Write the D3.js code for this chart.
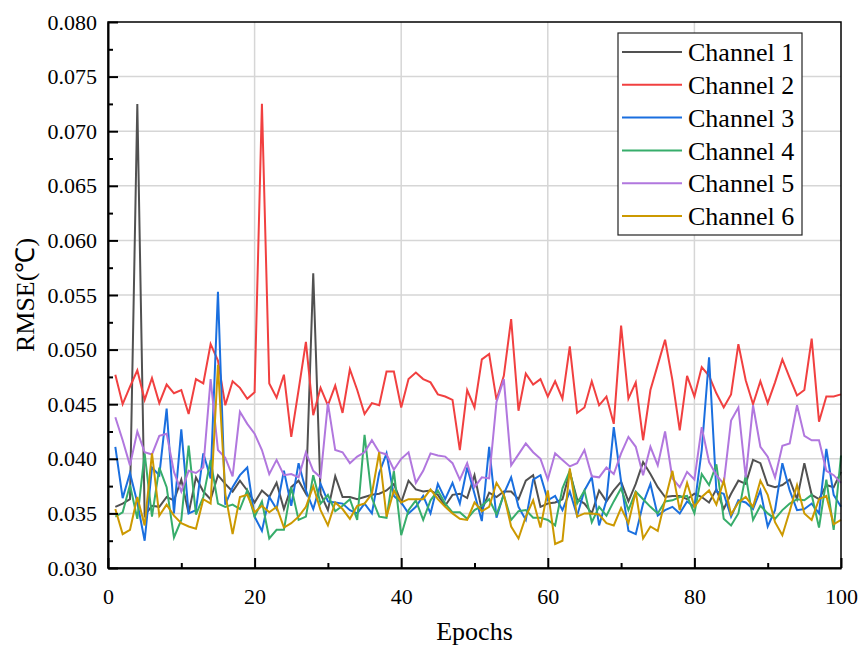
<!DOCTYPE html>
<html>
<head>
<meta charset="utf-8">
<script src="https://cdn.jsdelivr.net/npm/d3@7"></script>
<style>
  body { margin: 0; background: #fff; }
  svg { display: block; font-family: "Liberation Serif", "Times New Roman", serif; }
</style>
</head>
<body>
<div id="chart"></div>
<script>
// Data (epochs 1..100)
const epochs = d3.range(1, 101);
const seriesNames = ["Channel 1", "Channel 2", "Channel 3", "Channel 4", "Channel 5", "Channel 6"];
const seriesColors = ["#515151", "#F14040", "#1A6FDF", "#37AD6B", "#B177DE", "#CC9900"];

const ch1 = [
  0.0356, 0.0359, 0.0363, 0.0725, 0.0348, 0.0357, 0.0356, 0.0365, 0.0362, 0.0381, 0.0350, 0.0383, 0.0370, 0.0363, 0.0385, 0.0377, 0.0370,
  0.0380, 0.0371, 0.0360, 0.0371, 0.0365, 0.0378, 0.0354, 0.0374, 0.0380, 0.0368, 0.0570, 0.0368, 0.0353, 0.0384, 0.0365, 0.0365,
  0.0363, 0.0365, 0.0367, 0.0368, 0.0371, 0.0377, 0.0360, 0.0380, 0.0372, 0.0370, 0.0371, 0.0367, 0.0357, 0.0367, 0.0368, 0.0364, 0.0385,
  0.0353, 0.0369, 0.0365, 0.0370, 0.0370, 0.0363, 0.0380, 0.0385, 0.0356, 0.0359, 0.0360, 0.0363, 0.0388, 0.0363, 0.0359, 0.0350,
  0.0371, 0.0361, 0.0371, 0.0379, 0.0361, 0.0377, 0.0397, 0.0386, 0.0374, 0.0365, 0.0366, 0.0366, 0.0363, 0.0368, 0.0365, 0.0360, 0.0372,
  0.0354, 0.0368, 0.0380, 0.0377, 0.0399, 0.0396, 0.0376, 0.0374, 0.0376, 0.0381, 0.0363, 0.0396, 0.0367, 0.0363, 0.0376, 0.0374, 0.0388
];
const ch2 = [
  0.0477, 0.0450, 0.0466, 0.0481, 0.0454, 0.0474, 0.0451, 0.0468, 0.0460, 0.0463, 0.0441, 0.0473, 0.0469, 0.0505, 0.0490, 0.0449, 0.0471,
  0.0465, 0.0455, 0.0461, 0.0725, 0.0469, 0.0456, 0.0477, 0.0420, 0.0463, 0.0507, 0.0440, 0.0465, 0.0449, 0.0467, 0.0442, 0.0482,
  0.0463, 0.0441, 0.0451, 0.0449, 0.0480, 0.0480, 0.0447, 0.0473, 0.0479, 0.0473, 0.0470, 0.0459, 0.0457, 0.0454, 0.0408, 0.0463, 0.0447,
  0.0491, 0.0496, 0.0454, 0.0476, 0.0528, 0.0444, 0.0478, 0.0468, 0.0473, 0.0457, 0.0471, 0.0455, 0.0503, 0.0442, 0.0447, 0.0471,
  0.0449, 0.0457, 0.0432, 0.0522, 0.0455, 0.0470, 0.0417, 0.0463, 0.0486, 0.0509, 0.0472, 0.0426, 0.0476, 0.0457, 0.0484, 0.0476, 0.0460,
  0.0447, 0.0459, 0.0505, 0.0472, 0.0450, 0.0471, 0.0451, 0.0470, 0.0491, 0.0474, 0.0458, 0.0463, 0.0510, 0.0434, 0.0457, 0.0457, 0.0459
];
const ch3 = [
  0.0411, 0.0364, 0.0387, 0.0360, 0.0325, 0.0392, 0.0385, 0.0446, 0.0350, 0.0427, 0.0350, 0.0353, 0.0405, 0.0382, 0.0553, 0.0358, 0.0374,
  0.0385, 0.0392, 0.0347, 0.0334, 0.0365, 0.0354, 0.0389, 0.0357, 0.0396, 0.0371, 0.0354, 0.0377, 0.0361, 0.0360, 0.0359, 0.0353,
  0.0350, 0.0359, 0.0350, 0.0387, 0.0405, 0.0366, 0.0360, 0.0350, 0.0356, 0.0366, 0.0350, 0.0377, 0.0363, 0.0378, 0.0359, 0.0392, 0.0368,
  0.0343, 0.0411, 0.0346, 0.0368, 0.0383, 0.0356, 0.0344, 0.0381, 0.0385, 0.0362, 0.0366, 0.0353, 0.0370, 0.0348, 0.0371, 0.0383,
  0.0339, 0.0362, 0.0429, 0.0379, 0.0334, 0.0331, 0.0359, 0.0377, 0.0348, 0.0353, 0.0356, 0.0350, 0.0361, 0.0356, 0.0408, 0.0493, 0.0370,
  0.0368, 0.0347, 0.0362, 0.0360, 0.0354, 0.0371, 0.0338, 0.0353, 0.0396, 0.0371, 0.0353, 0.0354, 0.0359, 0.0350, 0.0409, 0.0367, 0.0356
];
const ch4 = [
  0.0347, 0.0351, 0.0376, 0.0345, 0.0405, 0.0347, 0.0392, 0.0374, 0.0328, 0.0344, 0.0412, 0.0349, 0.0365, 0.0399, 0.0359, 0.0356, 0.0358,
  0.0354, 0.0371, 0.0347, 0.0361, 0.0327, 0.0335, 0.0335, 0.0374, 0.0344, 0.0347, 0.0385, 0.0359, 0.0367, 0.0352, 0.0357, 0.0363,
  0.0344, 0.0422, 0.0364, 0.0347, 0.0346, 0.0389, 0.0330, 0.0353, 0.0362, 0.0344, 0.0362, 0.0371, 0.0359, 0.0351, 0.0351, 0.0345, 0.0353,
  0.0357, 0.0363, 0.0349, 0.0367, 0.0344, 0.0352, 0.0353, 0.0346, 0.0346, 0.0344, 0.0339, 0.0373, 0.0389, 0.0359, 0.0371, 0.0342,
  0.0356, 0.0348, 0.0361, 0.0373, 0.0353, 0.0370, 0.0363, 0.0356, 0.0350, 0.0361, 0.0362, 0.0365, 0.0366, 0.0350, 0.0386, 0.0376, 0.0395,
  0.0345, 0.0339, 0.0350, 0.0385, 0.0344, 0.0357, 0.0350, 0.0345, 0.0353, 0.0359, 0.0363, 0.0362, 0.0367, 0.0337, 0.0381, 0.0335, 0.0403
];
const ch5 = [
  0.0438, 0.0417, 0.0394, 0.0425, 0.0406, 0.0404, 0.0421, 0.0423, 0.0388, 0.0370, 0.0389, 0.0387, 0.0392, 0.0473, 0.0408, 0.0401, 0.0384,
  0.0443, 0.0432, 0.0423, 0.0408, 0.0386, 0.0399, 0.0385, 0.0386, 0.0383, 0.0406, 0.0389, 0.0383, 0.0451, 0.0408, 0.0406, 0.0396,
  0.0402, 0.0406, 0.0417, 0.0406, 0.0404, 0.0390, 0.0400, 0.0406, 0.0378, 0.0389, 0.0405, 0.0403, 0.0402, 0.0396, 0.0381, 0.0396, 0.0374,
  0.0383, 0.0382, 0.0452, 0.0473, 0.0394, 0.0404, 0.0414, 0.0406, 0.0400, 0.0381, 0.0405, 0.0399, 0.0393, 0.0396, 0.0408, 0.0384,
  0.0383, 0.0392, 0.0386, 0.0405, 0.0420, 0.0411, 0.0385, 0.0411, 0.0394, 0.0425, 0.0382, 0.0374, 0.0388, 0.0381, 0.0429, 0.0397, 0.0385,
  0.0377, 0.0435, 0.0447, 0.0383, 0.0449, 0.0411, 0.0402, 0.0383, 0.0412, 0.0414, 0.0449, 0.0421, 0.0417, 0.0417, 0.0389, 0.0385, 0.0378
];
const ch6 = [
  0.0354, 0.0331, 0.0335, 0.0365, 0.0339, 0.0405, 0.0348, 0.0358, 0.0348, 0.0341, 0.0338, 0.0336, 0.0363, 0.0359, 0.0486, 0.0368, 0.0331,
  0.0365, 0.0367, 0.0351, 0.0357, 0.0351, 0.0356, 0.0337, 0.0341, 0.0347, 0.0356, 0.0375, 0.0353, 0.0339, 0.0360, 0.0354, 0.0345,
  0.0357, 0.0359, 0.0368, 0.0406, 0.0347, 0.0371, 0.0360, 0.0363, 0.0363, 0.0363, 0.0372, 0.0363, 0.0356, 0.0350, 0.0345, 0.0344, 0.0360,
  0.0352, 0.0356, 0.0378, 0.0367, 0.0338, 0.0327, 0.0347, 0.0362, 0.0337, 0.0371, 0.0322, 0.0325, 0.0391, 0.0347, 0.0350, 0.0350,
  0.0349, 0.0341, 0.0339, 0.0355, 0.0341, 0.0370, 0.0327, 0.0338, 0.0334, 0.0362, 0.0389, 0.0353, 0.0378, 0.0356, 0.0365, 0.0371, 0.0358,
  0.0380, 0.0349, 0.0360, 0.0365, 0.0356, 0.0380, 0.0367, 0.0342, 0.0330, 0.0352, 0.0376, 0.0350, 0.0344, 0.0363, 0.0366, 0.0340, 0.0344
];
const allSeries = [ch1, ch2, ch3, ch4, ch5, ch6];

const xMajorTicks = [0, 20, 40, 60, 80, 100];
const xMinorTicks = [10, 30, 50, 70, 90];
const yMajorTicks = [0.030, 0.035, 0.040, 0.045, 0.050, 0.055, 0.060, 0.065, 0.070, 0.075, 0.080];

const W = 860, H = 646;
const margin = {top: 22, right: 19, bottom: 78, left: 108};
const width = W - margin.left - margin.right;
const height = H - margin.top - margin.bottom;

const svg = d3.select("#chart").append("svg")
  .attr("width", W)
  .attr("height", H);

const g = svg.append("g")
  .attr("transform", `translate(${margin.left},${margin.top})`);

const x = d3.scaleLinear().domain([0, 100]).range([0, width]);
const y = d3.scaleLinear().domain([0.030, 0.080]).range([height, 0]);

// grid lines
g.append("g")
  .selectAll("line")
  .data(xMajorTicks.slice(1, -1))
  .join("line")
  .attr("x1", d => x(d)).attr("x2", d => x(d))
  .attr("y1", 0).attr("y2", height)
  .attr("stroke", "#d6d6d6").attr("stroke-width", 1.5);

g.append("g")
  .selectAll("line")
  .data(yMajorTicks.slice(1, -1))
  .join("line")
  .attr("x1", 0).attr("x2", width)
  .attr("y1", d => y(d)).attr("y2", d => y(d))
  .attr("stroke", "#d6d6d6").attr("stroke-width", 1.5);

// lines
const line = d3.line()
  .x((d, i) => x(epochs[i]))
  .y(d => y(d));

g.append("g")
  .selectAll("path")
  .data(allSeries)
  .join("path")
  .attr("d", line)
  .attr("fill", "none")
  .attr("stroke", (d, i) => seriesColors[i])
  .attr("stroke-width", 2)
  .attr("stroke-linejoin", "miter");

// frame
g.append("rect")
  .attr("x", 0).attr("y", 0)
  .attr("width", width).attr("height", height)
  .attr("fill", "none")
  .attr("stroke", "#000")
  .attr("stroke-width", 1.5);

// x axis (ticks inward)
const xAxis = g.append("g")
  .attr("transform", `translate(0,${height})`)
  .call(d3.axisBottom(x).tickValues(xMajorTicks).tickSizeInner(-10).tickSizeOuter(0).tickPadding(20).tickFormat(d3.format("d")));
xAxis.select(".domain").attr("stroke-width", 2);
xAxis.selectAll(".tick line").attr("stroke-width", 2);
xAxis.selectAll("text").attr("font-size", 22).attr("font-family", "Liberation Serif").attr("fill", "#000");

g.append("g")
  .attr("transform", `translate(0,${height})`)
  .call(d3.axisBottom(x).tickValues(xMinorTicks).tickSize(-5).tickFormat(""))
  .call(a => a.select(".domain").remove())
  .selectAll(".tick line").attr("stroke-width", 2);

// y axis (ticks inward)
const yMinorTicks = yMajorTicks.slice(0, -1).map(d => d + 0.0025);
const yAxis = g.append("g")
  .call(d3.axisLeft(y).tickValues(yMajorTicks).tickSizeInner(-10).tickSizeOuter(0).tickPadding(11).tickFormat(d3.format(".3f")));
yAxis.select(".domain").attr("stroke-width", 2);
yAxis.selectAll(".tick line").attr("stroke-width", 2);
yAxis.selectAll("text").attr("font-size", 22).attr("font-family", "Liberation Serif").attr("fill", "#000");

g.append("g")
  .call(d3.axisLeft(y).tickValues(yMinorTicks).tickSize(-5).tickFormat(""))
  .call(a => a.select(".domain").remove())
  .selectAll(".tick line").attr("stroke-width", 2);

// axis titles
svg.append("text")
  .attr("x", margin.left + width / 2)
  .attr("y", 640)
  .attr("text-anchor", "middle")
  .attr("font-size", 26)
  .text("Epochs");

svg.append("text")
  .attr("transform", `translate(34,${margin.top + height / 2}) rotate(-90)`)
  .attr("text-anchor", "middle")
  .attr("font-size", 26)
  .text("RMSE(℃)");

// legend
const legend = svg.append("g").attr("transform", "translate(618,33)");
legend.append("rect")
  .attr("width", 184).attr("height", 202)
  .attr("fill", "#fff")
  .attr("stroke", "#222").attr("stroke-width", 1.2);

const rows = legend.selectAll("g.row")
  .data(seriesNames)
  .join("g")
  .attr("class", "row")
  .attr("transform", (d, i) => `translate(0,${19 + i * 32.8})`);

rows.append("line")
  .attr("x1", 4).attr("x2", 64)
  .attr("stroke", (d, i) => seriesColors[i])
  .attr("stroke-width", 2);

rows.append("text")
  .attr("x", 70)
  .attr("dy", "0.35em")
  .attr("font-size", 26)
  .text(d => d);
</script>
</body>
</html>
